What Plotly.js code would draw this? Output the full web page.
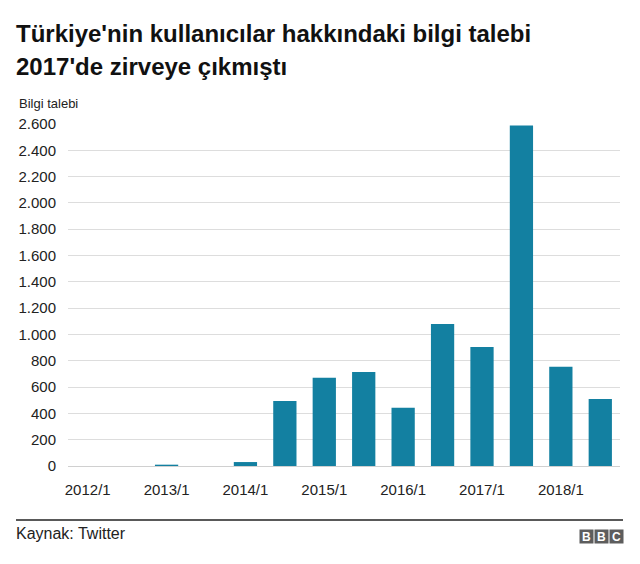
<!DOCTYPE html>
<html>
<head>
<meta charset="utf-8">
<script src="https://cdn.plot.ly/plotly-3.0.1.min.js"></script>
<style>
  html, body { margin: 0; padding: 0; background: #fff; }
  #chart { width: 640px; height: 564px; }
</style>
</head>
<body>
<div id="chart"></div>
<script>
// half-year periods and Turkey's info requests to Twitter
const periods = ['2012/1', '2012/2', '2013/1', '2013/2', '2014/1', '2014/2', '2015/1',
                 '2015/2', '2016/1', '2016/2', '2017/1', '2017/2', '2018/1', '2018/2'];
const requests = [0, 0, 10, 0, 30, 495, 670, 715, 442, 1080, 905, 2588, 754, 510];
const tickLabels = periods.filter(p => p.endsWith('/1'));
const yTicks = [0, 200, 400, 600, 800, 1000, 1200, 1400, 1600, 1800, 2000, 2200, 2400, 2600];

const titleLines = ["Türkiye'nin kullanıcılar hakkındaki bilgi talebi", "2017'de zirveye çıkmıştı"];
const yLabel = 'Bilgi talebi';
const source = 'Kaynak: Twitter';

const font = 'Liberation Sans, Arial, Helvetica, sans-serif';
const bars = {
    x: periods,
    y: requests,
    type: 'bar',
    marker: { color: '#1380a1' },
    hoverinfo: 'x+y'
};

// paper coords from pixel positions (plot area is 68..620 x 124..466)
const px = x => (x - 68) / 552;
const py = y => (466 - y) / 342;

const bbc = ['B', 'B', 'C'].map((ch, i) => ({
    xref: 'paper', yref: 'paper',
    x: px(586 + i * 15), y: py(536),
    text: '<b>' + ch + '</b>', showarrow: false,
    font: { family: font, size: 12, color: '#fff' },
    bgcolor: '#5d5d5d', width: 12, height: 12, borderpad: 0.5,
    xanchor: 'center', yanchor: 'middle'
}));

Plotly.newPlot('chart', [bars], {
    width: 640, height: 564,
    margin: { l: 68, r: 20, t: 124, b: 98 },
    paper_bgcolor: '#fff', plot_bgcolor: '#fff',
    separators: ',.',
    showlegend: false,
    bargap: 0.41,
    font: { family: font, color: '#222' },
    xaxis: {
        type: 'category',
        tickvals: tickLabels,
        ticktext: tickLabels,
        ticks: 'outside', ticklen: 10, tickcolor: 'rgba(0,0,0,0)',
        tickfont: { size: 15, color: '#222' },
        showgrid: false, showline: false, zeroline: false
    },
    yaxis: {
        range: [0, 2600],
        tickvals: yTicks,
        tickformat: ',d',
        ticks: 'outside', ticklen: 8, tickcolor: 'rgba(0,0,0,0)',
        tickfont: { size: 15, color: '#222' },
        gridcolor: '#dddddd', gridwidth: 1,
        zeroline: true, zerolinecolor: '#d0d0d0', zerolinewidth: 1,
        showline: false, fixedrange: true
    },
    annotations: [
        { xref: 'paper', yref: 'paper', x: px(14), y: py(33), xanchor: 'left', yanchor: 'middle',
          text: '<b>' + titleLines[0] + '</b>', showarrow: false, font: { family: font, size: 24, color: '#111' } },
        { xref: 'paper', yref: 'paper', x: px(14), y: py(66), xanchor: 'left', yanchor: 'middle',
          text: '<b>' + titleLines[1] + '</b>', showarrow: false, font: { family: font, size: 24, color: '#111' } },
        { xref: 'paper', yref: 'paper', x: px(17), y: py(103), xanchor: 'left', yanchor: 'middle',
          text: yLabel, showarrow: false, font: { family: font, size: 13, color: '#222' } },
        { xref: 'paper', yref: 'paper', x: px(14), y: py(533), xanchor: 'left', yanchor: 'middle',
          text: source, showarrow: false, font: { family: font, size: 16, color: '#222' } }
    ].concat(bbc),
    shapes: [
        { type: 'line', xref: 'paper', yref: 'paper', x0: px(16), x1: px(623),
          y0: py(520), y1: py(520), line: { color: '#222', width: 1.5 } }
    ]
}, { displayModeBar: false, staticPlot: true });
</script>
</body>
</html>
